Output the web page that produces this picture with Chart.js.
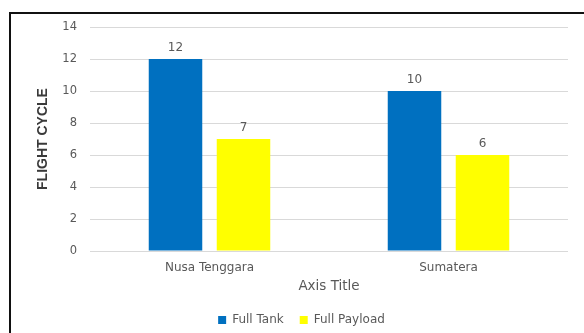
<!DOCTYPE html>
<html>
<head>
<meta charset="utf-8">
<script src="https://cdn.jsdelivr.net/npm/chart.js@4"></script>
<style>
  html, body { margin: 0; padding: 0; background: #fff; }
  #wrap { position: relative; width: 584px; height: 333px; overflow: hidden; }
  #frame {
    position: absolute; left: 9px; top: 12px; width: 600px; height: 340px;
    border: 2px solid #111; box-sizing: border-box;
  }
  canvas { position: absolute; left: 0; top: 0; }
</style>
</head>
<body>
<div id="wrap">
  <div id="frame"></div>
  <canvas id="chart" width="584" height="333"></canvas>
</div>
<script>
const categories = ["Nusa Tenggara", "Sumatera"];
const fullTank = [12, 10];
const fullPayload = [7, 6];
const seriesLabels = ["Full Tank", "Full Payload"];

const TEXT = "#595959";
const FONT = "'DejaVu Sans', sans-serif";

// value labels above each bar
const valueLabels = {
  id: "valueLabels",
  afterDatasetsDraw(chart) {
    const { ctx } = chart;
    ctx.save();
    ctx.font = `12px ${FONT}`;
    ctx.fillStyle = TEXT;
    ctx.textAlign = "center";
    ctx.textBaseline = "bottom";
    chart.data.datasets.forEach((ds, i) => {
      chart.getDatasetMeta(i).data.forEach((bar, j) => {
        ctx.fillText(String(ds.data[j]), bar.x, bar.y - 5);
      });
    });
    ctx.restore();
  },
};

new Chart(document.getElementById("chart"), {
  type: "bar",
  data: {
    labels: categories,
    datasets: [
      { label: seriesLabels[0], data: fullTank, backgroundColor: "#0070C0" },
      { label: seriesLabels[1], data: fullPayload, backgroundColor: "#FFFF00" },
    ],
  },
  options: {
    responsive: false,
    animation: false,
    layout: { padding: { left: 35, right: 16, top: 27, bottom: -3 } },
    datasets: {
      bar: { categoryPercentage: 0.569, barPercentage: 0.787 },
    },
    plugins: {
      tooltip: { enabled: false },
      legend: {
        position: "bottom",
        labels: {
          boxWidth: 8,
          boxHeight: 8,
          padding: 16,
          color: TEXT,
          font: { family: FONT, size: 12 },
        },
      },
    },
    scales: {
      x: {
        grid: { display: false, drawTicks: false },
        border: { display: false },
        ticks: { color: TEXT, font: { family: FONT, size: 12 }, padding: 10 },
        title: {
          display: true,
          text: "Axis Title",
          color: TEXT,
          font: { family: FONT, size: 13.5 },
          padding: { top: 0, bottom: 3 },
        },
        afterFit(scale) {
          scale.height = 47;
        },
      },
      y: {
        min: 0,
        max: 14,
        ticks: { stepSize: 2, color: TEXT, font: { family: FONT, size: 11.5 }, padding: 13 },
        grid: { color: "#d9d9d9", lineWidth: 1, drawTicks: false },
        border: { display: false },
        title: {
          display: true,
          text: "FLIGHT CYCLE",
          color: "#3a3a3a",
          font: { family: "'Liberation Sans', Arial, sans-serif", size: 14, weight: "bold" },
          padding: { top: 0, bottom: 0 },
        },
        afterFit(scale) {
          scale.width = 55;
        },
      },
    },
  },
  plugins: [valueLabels],
});
</script>
</body>
</html>
